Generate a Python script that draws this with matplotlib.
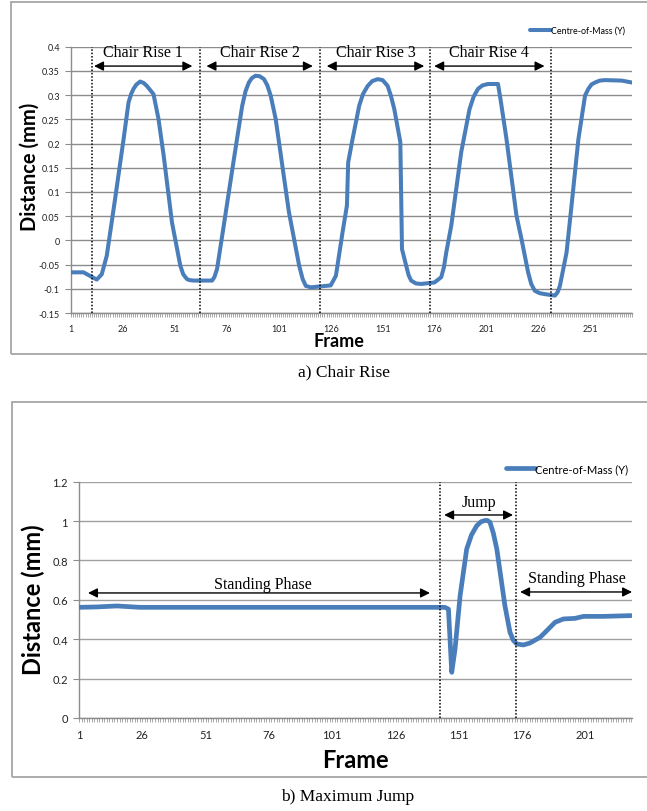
import matplotlib
matplotlib.use("Agg")
import matplotlib.pyplot as plt
from matplotlib.patches import Rectangle
from matplotlib.ticker import FixedLocator, MultipleLocator

# ---------------- data ----------------
top_frames = [1, 7, 10, 13.4, 15.8, 18.2, 22.2, 26.3, 28.7, 30, 31.1, 32.5, 34.3, 36, 37.5, 40.7,
              43.1, 45.6, 49.6, 53.6, 55, 56.8, 58, 60, 68.9, 70, 71.3, 74.5, 79.4, 83.4, 85,
              86.6, 88, 89.8, 91.8, 93.9, 95.5, 97.1, 99.5, 105.9, 110.8, 112.5, 114, 116.4,
              121.2, 126, 128.5, 131.7, 133.8, 134.4, 136.5, 139.7, 141.5, 143.8, 146, 148.6,
              151, 153.4, 155, 156.6, 159.5, 160.3, 162.3, 163.5, 164.7, 167, 169.5, 175.9,
              179.2, 180.5, 181.6, 184, 188.8, 192.8, 194.8, 196.9, 199, 201.7, 206.5, 207.7,
              210.6, 215.4, 217.8, 221, 222.5, 224.2, 226.5, 229, 233.9, 235.2, 236.3, 239.5,
              241.9, 245.2, 248.4, 250, 251.5, 253.2, 255.5, 258, 266, 271]
top_values = [-0.066, -0.066, -0.073, -0.081, -0.07, -0.032, 0.085, 0.209, 0.285, 0.303, 0.313,
              0.322, 0.328, 0.325, 0.319, 0.302, 0.251, 0.175, 0.037, -0.052, -0.07, -0.08,
              -0.082, -0.083, -0.083, -0.076, -0.059, 0.030, 0.168, 0.278, 0.308, 0.326, 0.335,
              0.340, 0.339, 0.333, 0.32, 0.299, 0.251, 0.058, -0.052, -0.08, -0.094, -0.097,
              -0.095, -0.093, -0.073, 0.017, 0.072, 0.161, 0.209, 0.278, 0.302, 0.319, 0.329,
              0.333, 0.331, 0.319, 0.298, 0.271, 0.203, -0.018, -0.052, -0.072, -0.083, -0.089,
              -0.09, -0.087, -0.076, -0.055, -0.025, 0.030, 0.182, 0.271, 0.297, 0.313, 0.320,
              0.323, 0.323, 0.292, 0.209, 0.051, 0.003, -0.066, -0.09, -0.104, -0.109, -0.111,
              -0.114, -0.107, -0.094, -0.025, 0.072, 0.209, 0.299, 0.313, 0.322, 0.326, 0.330,
              0.331, 0.330, 0.326]
top_dividers = [11, 63, 121, 174, 232]
top_labels = ["Chair Rise 1", "Chair Rise 2", "Chair Rise 3", "Chair Rise 4"]

bot_frames = [1, 8, 16, 25, 60, 100, 130, 145.5, 146.9, 148.2, 149.5, 151.5, 154.1, 156, 158.1,
              159.8, 161.3, 162.3, 163.3, 164.6, 166, 169.2, 171.2, 172.5, 173.9, 176.5, 179.1,
              183.1, 185.7, 189, 192.3, 196.9, 200.2, 208.1, 219]
bot_values = [0.562, 0.564, 0.569, 0.562, 0.562, 0.562, 0.562, 0.562, 0.553, 0.232, 0.35, 0.621,
              0.858, 0.93, 0.977, 0.997, 1.003, 1.003, 0.994, 0.94, 0.858, 0.570, 0.435, 0.395,
              0.376, 0.371, 0.381, 0.410, 0.443, 0.486, 0.503, 0.506, 0.516, 0.516, 0.520]
bot_dividers = [143.5, 173.6]

x_ticks_top = [1, 26, 51, 76, 101, 126, 151, 176, 201, 226, 251]
x_ticks_bot = [1, 26, 51, 76, 101, 126, 151, 176, 201]
y_ticks_top = [-0.15, -0.1, -0.05, 0, 0.05, 0.1, 0.15, 0.2, 0.25, 0.3, 0.35, 0.4]
y_ticks_bot = [0, 0.2, 0.4, 0.6, 0.8, 1.0, 1.2]

# ---------------- figure ----------------
W, H = 647, 812
fig = plt.figure(figsize=(W / 100, H / 100), dpi=100)
LINE = "#4A7EBB"
GRID = "#8c8c8c"
SANS = ["Lato", "DejaVu Sans"]
SERIF = ["Liberation Serif", "DejaVu Serif"]


def fx(px):
    return px / W


def fy(py):
    return 1 - py / H


# outer borders
fig.patches.append(Rectangle((fx(11), fy(355)), fx(647) - fx(11) + 0.01, fy(3) - fy(355),
                             transform=fig.transFigure, fill=False, ec="#a6a6a6", lw=1.3))
fig.patches.append(Rectangle((fx(11.5), fy(778)), fx(647) - fx(11.5) + 0.01, fy(403) - fy(778),
                             transform=fig.transFigure, fill=False, ec="#a6a6a6", lw=1.3))


def style_axes(ax, xt, yt, fs, yfmt):
    for s in ["top", "right"]:
        ax.spines[s].set_visible(False)
    for s in ["left", "bottom"]:
        ax.spines[s].set_color(GRID)
        ax.spines[s].set_linewidth(1.0)
    ax.set_yticks(yt)
    ax.set_yticklabels([yfmt(v) for v in yt], fontsize=fs, family=SANS, color="#222222")
    ax.xaxis.set_major_locator(FixedLocator(xt))
    ax.set_xticklabels([str(v) for v in xt], fontsize=fs, family=SANS, color="#222222")
    ax.xaxis.set_minor_locator(MultipleLocator(1))
    ax.tick_params(axis="x", which="both", length=3, width=0.6, color="#999999", pad=5)
    ax.tick_params(axis="y", length=4, width=0.8, color=GRID, pad=4)
    ax.yaxis.grid(True, color=GRID, lw=1.0)
    ax.set_axisbelow(True)


def fmt_top(v):
    if abs(v) < 1e-9:
        return "0"
    return ("%.2f" % v).rstrip("0")


def fmt_bot(v):
    if abs(v) < 1e-9:
        return "0"
    if abs(v - round(v)) < 1e-9:
        return str(int(round(v)))
    return "%.1f" % v


ARW = dict(color="black", lw=1.0, mutation_scale=14, shrinkA=0, shrinkB=0)

# ---------------- top chart ----------------
ax1 = fig.add_axes([fx(71), fy(314), fx(632) - fx(71), fy(47.7) - fy(314)])
ax1.plot(top_frames, top_values, color=LINE, lw=2.9, solid_joinstyle="round",
         solid_capstyle="round", label="Centre-of-Mass (Y)", zorder=3)
ax1.set_xlim(1, 271)
ax1.set_ylim(-0.15, 0.4)
style_axes(ax1, x_ticks_top, y_ticks_top, 6.5, fmt_top)
for d in top_dividers:
    ax1.axvline(d, color="black", ls=(0, (1, 1.2)), lw=1.1, zorder=4)

arrow_spans = [(12.1, 59.4), (66.2, 117.4), (124.1, 171), (175.8, 228.9)]
for (a, b), lab in zip(arrow_spans, top_labels):
    ax1.annotate("", xy=(a, 0.36), xytext=(b, 0.36), arrowprops=dict(arrowstyle="<|-|>", **ARW))
    ax1.text((a + b) / 2, 0.389, lab, ha="center", va="center", fontsize=11.5, family=SERIF)

ax1.legend(loc="lower left", bbox_to_anchor=(fx(530), fy(36)), bbox_transform=fig.transFigure,
           frameon=False, handlelength=2.4, handletextpad=0.0,
           borderaxespad=0, borderpad=0, prop={"family": SANS, "size": 6.4})

fig.text(fx(30), fy(166.5), "Distance (mm)", ha="center", va="center", rotation=90,
         fontsize=14.5, fontweight="bold", family=SANS)
fig.text(fx(339), fy(342), "Frame", ha="center", va="center", fontsize=13,
         fontweight="bold", family=SANS)
fig.text(fx(344), fy(372), "a) Chair Rise", ha="center", va="center", fontsize=12.5, family=SERIF)

# ---------------- bottom chart ----------------
ax2 = fig.add_axes([fx(79), fy(719), fx(632.3) - fx(79), fy(482.7) - fy(719)])
ax2.plot(bot_frames, bot_values, color=LINE, lw=3.4, solid_joinstyle="round",
         solid_capstyle="round", label="Centre-of-Mass (Y)", zorder=3)
ax2.set_xlim(1, 219.5)
ax2.set_ylim(0, 1.2)
style_axes(ax2, x_ticks_bot, y_ticks_bot, 8, fmt_bot)
ax2.yaxis.grid(True, color="#a0a0a0", lw=1.0)
for d in bot_dividers:
    ax2.axvline(d, color="black", ls=(0, (1, 1.2)), lw=1.1, zorder=4)

ax2.annotate("", xy=(4.55, 0.635), xytext=(139.6, 0.635), arrowprops=dict(arrowstyle="<|-|>", **ARW))
ax2.text(73.5, 0.68, "Standing Phase", ha="center", va="center", fontsize=11.5, family=SERIF)

ax2.annotate("", xy=(145.2, 1.031), xytext=(172.4, 1.031), arrowprops=dict(arrowstyle="<|-|>", **ARW))
ax2.text(159, 1.097, "Jump", ha="center", va="center", fontsize=11.5, family=SERIF)

ax2.annotate("", xy=(175.2, 0.64), xytext=(219.4, 0.64), arrowprops=dict(arrowstyle="<|-|>", **ARW),
             annotation_clip=False)
ax2.text(197.6, 0.711, "Standing Phase", ha="center", va="center", fontsize=11.5, family=SERIF)

ax2.legend(loc="lower left", bbox_to_anchor=(fx(506), fy(475)), bbox_transform=fig.transFigure,
           frameon=False, handlelength=2.6, handletextpad=0.0,
           borderaxespad=0, borderpad=0, prop={"family": SANS, "size": 8})

fig.text(fx(33), fy(600), "Distance (mm)", ha="center", va="center", rotation=90,
         fontsize=17, fontweight="bold", family=SANS)
fig.text(fx(355), fy(761), "Frame", ha="center", va="center", fontsize=17,
         fontweight="bold", family=SANS)
fig.text(fx(348), fy(797), "b) Maximum Jump", ha="center", va="center", fontsize=12.5, family=SERIF)

fig.savefig("out.png", dpi=100)
